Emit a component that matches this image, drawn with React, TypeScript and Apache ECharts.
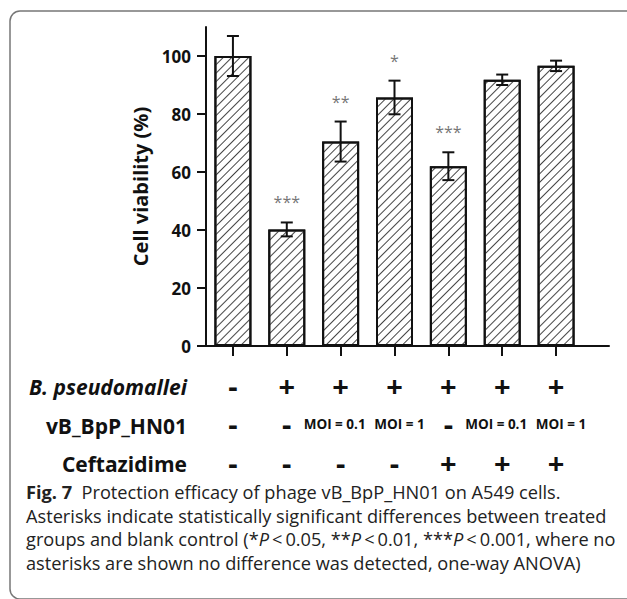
import React, { useEffect, useRef } from "react";
import * as echarts from "echarts";

const groups = ["Control", "Bp", "Bp+Phage0.1", "Bp+Phage1", "Bp+Cef", "Bp+Cef+Phage0.1", "Bp+Cef+Phage1"];
const viability = [100, 40.2, 70.5, 85.7, 62.0, 91.8, 96.6];
const errors = [6.9, 2.4, 6.9, 5.8, 4.8, 1.8, 1.8];
const stars = ["", "***", "**", "*", "***", "", ""];
const rowBp = ["-", "+", "+", "+", "+", "+", "+"];
const rowPhage = ["-", "-", "MOI = 0.1", "MOI = 1", "-", "MOI = 0.1", "MOI = 1"];
const rowCef = ["-", "-", "-", "-", "+", "+", "+"];
const rowLabels = ["B. pseudomallei", "vB_BpP_HN01", "Ceftazidime"];
const yTicks = [0, 20, 40, 60, 80, 100];
const captionLines = [
  [["b", "Fig. 7"], ["r", "  Protection efficacy of phage vB_BpP_HN01 on A549 cells."]],
  [["r", "Asterisks indicate statistically significant differences between treated"]],
  [["r", "groups and blank control (*"], ["i", "P"], ["r", "\u2009<\u20090.05, **"], ["i", "P"], ["r", "\u2009<\u20090.01, ***"], ["i", "P"], ["r", "\u2009<\u20090.001, where no"]],
  [["r", "asterisks are shown no difference was detected, one-way ANOVA)"]],
];

const FONT = "'Open Sans', 'Noto Sans', sans-serif";

export default function App() {
  const ref = useRef<HTMLDivElement>(null);
  useEffect(() => {
    document.body.style.margin = "0";
    const chart = echarts.init(ref.current!, null, { renderer: "svg" });
    const gridTop = 27;
    const gridHeight = 319;
    const gridLeft = 206;
    const phageStyle = (v: string) => (v === "-" ? "p" : v === "MOI = 1" ? "m1" : "m0");
    const option: any = {
      animation: false,
      backgroundColor: "#fff",
      textStyle: { fontFamily: FONT },
      grid: [
        { left: gridLeft, top: gridTop, width: 403, height: gridHeight, outerBoundsMode: "none" },
        { left: gridLeft, top: gridTop, width: 377, height: gridHeight, outerBoundsMode: "none" },
      ],
      xAxis: [
        {
          gridIndex: 0,
          type: "value",
          min: 0,
          max: 1,
          axisLine: { show: true, lineStyle: { color: "#111", width: 2 } },
          axisTick: { show: false },
          axisLabel: { show: false },
          splitLine: { show: false },
        },
        {
          gridIndex: 1,
          type: "category",
          data: groups,
          axisLine: { show: false },
          axisTick: { show: true, alignWithLabel: true, length: 10, lineStyle: { color: "#111", width: 2 } },
          axisLabel: {
            show: true,
            interval: 0,
            margin: 20,
            color: "#111",
            fontFamily: FONT,
            formatter: (_v: string, i: number) =>
              `{p|${rowBp[i]}}\n{${phageStyle(rowPhage[i])}|${rowPhage[i]}}\n{p|${rowCef[i]}}`,
            rich: {
              p: { fontSize: 29, fontWeight: "bold", lineHeight: 38.5, fontFamily: FONT, color: "#111" },
              m0: { fontSize: 13.5, fontWeight: "bold", lineHeight: 38.5, fontFamily: FONT, color: "#111", padding: [0, 12, 0, 0] },
              m1: { fontSize: 13.5, fontWeight: "bold", lineHeight: 38.5, fontFamily: FONT, color: "#111", padding: [0, 0, 0, 10] },
            },
          },
          splitLine: { show: false },
        },
      ],
      yAxis: [
        {
          gridIndex: 0,
          type: "value",
          min: 0,
          max: 110,
          name: "Cell viability (%)",
          nameLocation: "middle",
          nameGap: 52,
          nameTextStyle: { fontSize: 20, fontWeight: "bold", color: "#111", fontFamily: FONT },
          axisLine: { show: true, lineStyle: { color: "#111", width: 2 } },
          axisTick: { show: true, length: 9, customValues: yTicks, lineStyle: { color: "#111", width: 2 } },
          axisLabel: { show: true, customValues: yTicks, margin: 15, fontSize: 17, fontWeight: "bold", color: "#111", fontFamily: FONT },
          splitLine: { show: false },
        },
        {
          gridIndex: 1,
          type: "value",
          min: 0,
          max: 110,
          show: false,
          splitLine: { show: false },
        },
      ],
      series: [
        {
          type: "bar",
          xAxisIndex: 1,
          yAxisIndex: 1,
          data: viability,
          barWidth: 37,
          itemStyle: {
            color: "#fff",
            borderColor: "#111",
            borderWidth: 2,
            decal: {
              symbol: "rect",
              symbolSize: 1,
              dashArrayX: [1, 0],
              dashArrayY: [1, 5],
              rotation: -Math.PI / 4,
              color: "#444",
            },
          },
          z: 2,
        },
        {
          type: "custom",
          xAxisIndex: 1,
          yAxisIndex: 1,
          z: 5,
          data: viability.map((v, i) => [i, v, errors[i]]),
          renderItem: (params: any, api: any) => {
            const i = api.value(0);
            const m = api.value(1);
            const e = api.value(2);
            const top = api.coord([i, m + e]);
            const bot = api.coord([i, m - e]);
            const x = top[0];
            const half = 6;
            const st = { stroke: "#111", lineWidth: 2 };
            const children: any[] = [
              { type: "line", shape: { x1: x, y1: top[1], x2: x, y2: bot[1] }, style: st },
              { type: "line", shape: { x1: x - half, y1: top[1], x2: x + half, y2: top[1] }, style: st },
              { type: "line", shape: { x1: x - half, y1: bot[1], x2: x + half, y2: bot[1] }, style: st },
            ];
            const s = stars[params.dataIndex];
            if (s) {
              children.push({
                type: "text",
                x: x,
                y: top[1] - 20,
                style: { text: s, fill: "#777", font: `16px ${FONT}`, textAlign: "center", textVerticalAlign: "middle" },
              });
            }
            return { type: "group", children };
          },
        },
      ],
      graphic: [
        {
          type: "rect",
          shape: { x: 10, y: 11, width: 640, height: 588, r: 10 },
          style: { fill: "none", stroke: "#777", lineWidth: 1.5 },
          silent: true,
        },
        ...rowLabels.map((t, k) => ({
          type: "text",
          x: 187,
          y: [387, 426, 464][k],
          style: {
            text: t,
            font: `${k === 0 ? "italic " : ""}bold 21px ${FONT}`,
            fill: "#111",
            textAlign: "right",
            textVerticalAlign: "middle",
          },
        })),
        ...captionLines.map((parts, k) => ({
          type: "text",
          x: 26,
          y: 492 + k * 23.5,
          style: {
            text: parts.map(([s, t]) => `{${s}|${t}}`).join(""),
            textAlign: "left",
            textVerticalAlign: "middle",
            rich: {
              r: { font: `18.2px ${FONT}`, fill: "#222" },
              b: { font: `bold 18.2px ${FONT}`, fill: "#222" },
              i: { font: `italic 18.2px ${FONT}`, fill: "#222" },
            },
          },
        })),
      ],
    };
    chart.setOption(option);
    return () => chart.dispose();
  }, []);
  return <div ref={ref} style={{ width: 627, height: 599 }} />;
}
